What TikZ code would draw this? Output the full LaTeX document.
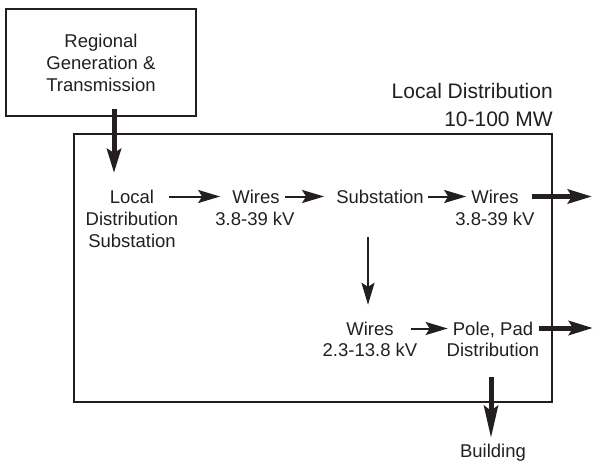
\documentclass[tikz,border=0pt]{standalone}
\usepackage{fontspec}
\setmainfont{Liberation Sans}
\usetikzlibrary{arrows.meta}
\definecolor{ink}{RGB}{35,31,32}

\begin{document}
\begin{tikzpicture}[x = 1pt, y = -1pt, font = \fontsize{18.5}{22}\selectfont, color = ink,
	txt/.style = {inner sep = 0, text height = 13pt, text depth = 0pt},
	big txt/.style = {inner sep = 0, text height = 15pt, text depth = 0pt, font = \fontsize{21}{25}\selectfont},
	frame/.style = {draw, line width = 2.7pt},
	line arrow/.style = {line width = 2pt, -{Stealth[length = 22pt, width = 13pt, inset = 4pt]}},
	bold arrow/.style = {line width = 5pt, -{Stealth[length = 24pt, width = 14pt, inset = 4pt]}}]

\useasboundingbox (0, 0) rectangle (593, 460);

\node [frame, minimum width = 190pt, minimum height = 107pt, align = center] (rgt) at (101, 62.5) {Regional\\Generation \&\\Transmission};

\node [frame, minimum width = 478pt, minimum height = 268pt] (ld) at (313, 268) {};
\node [big txt, anchor = east] (ld1) at (553, 91) {Local Distribution};
\node [big txt, anchor = east] (ld2) at (553, 118.5) {10-100 MW};

\node [txt] (lds1) at (132, 196.5) {Local};
\node [txt] (lds2) at (132, 218.5) {Distribution};
\node [txt] (lds3) at (132, 240.5) {Substation};

\node [txt] (wa1) at (256, 196.5) {Wires};
\node [txt] (wa2) at (255, 218.5) {3.8-39 kV};

\node [txt] (sub) at (380, 196.5) {Substation};

\node [txt] (wb1) at (495, 196.5) {Wires};
\node [txt] (wb2) at (495, 218.5) {3.8-39 kV};

\node [txt] (wc1) at (370, 328.5) {Wires};
\node [txt] (wc2) at (370, 350) {2.3-13.8 kV};

\node [txt] (pp1) at (493, 328.5) {Pole, Pad};
\node [txt] (pp2) at (493, 350) {Distribution};

\node [txt] (bld) at (493, 451) {Building};

\coordinate (feed) at (114, 173);
\coordinate (out1) at (592, 196.5);
\coordinate (out2) at (593, 328);

\draw [bold arrow] ([xshift = 13pt, yshift = 8pt] rgt.south) -- (feed);

\draw [line arrow] ([xshift = 15pt] lds1.east) -- ([xshift = -12pt] wa1.west);
\draw [line arrow] ([xshift = 5pt] wa1.east) -- ([xshift = -12pt] sub.west);
\draw [line arrow] ([xshift = 4pt] sub.east) -- ([xshift = -5pt] wb1.west);
\draw [bold arrow] ([xshift = 13pt] wb1.east) -- (out1);

\draw [line arrow] ([xshift = -12pt, yshift = -34pt] sub.south) -- ([xshift = -2pt, yshift = 17pt] wc1.north);
\draw [line arrow] ([xshift = 17pt] wc1.east) -- ([xshift = -5pt] pp1.west);
\draw [bold arrow] ([xshift = 6pt, yshift = 0.5pt] pp1.east) -- (out2);
\draw [bold arrow, -{Stealth[length = 32pt, width = 14pt, inset = 5pt]}] ([xshift = -2pt, yshift = -20.5pt] pp2.south) -- ([xshift = -2pt, yshift = 6.5pt] bld.north);

\end{tikzpicture}
\end{document}
